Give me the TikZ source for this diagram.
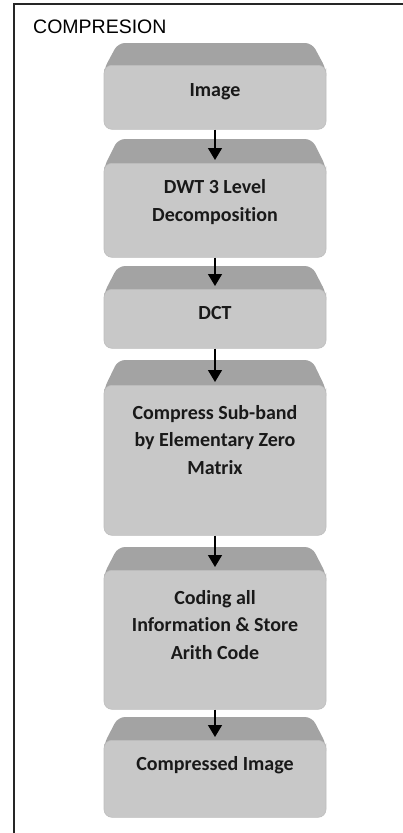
\documentclass[tikz,border=0pt]{standalone}
\usepackage{fontspec}
\setmainfont{Carlito}[Ligatures=NoCommon]
\newfontfamily\arialf{Liberation Sans}
\usetikzlibrary{arrows.meta,calc}
\definecolor{frontc}{HTML}{C8C8C8}
\definecolor{frontd}{HTML}{BEBEBE}
\definecolor{topc}{HTML}{A3A3A3}
\tikzset{
  front/.style={fill=frontc, draw=frontd, line width=0.6pt, rounded corners=8pt,
    minimum width=222pt, inner sep=0pt},
  topface/.style={fill=topc, rounded corners=7pt},
  txt/.style={align=center, font=\bfseries\fontsize{20}{27.5}\selectfont, inner sep=0pt, text=black!90},
  arr/.style={line width=1.2pt, -{Triangle[length=12pt,width=14pt]}},
  framel/.style={line width=1.6pt, draw=black!85},
}
\newcommand\bevbox[6]{%
  \fill[topface] (104,#3+10) -- (104,#3+4) -- (118,#2) -- (312,#2) -- (326,#3+4) -- (326,#3+10) -- cycle;
  \node[front, minimum height={#4pt-#3pt}, anchor=north] (#1) at (215,#3) {};
  \node[txt] (#1t) at (215,#5) {#6};
}
\begin{document}
\begin{tikzpicture}[x=1pt,y=-1pt]
\useasboundingbox (0,0) rectangle (403,833);
\fill[white] (0,0) rectangle (403,833);
\draw[framel] (14,833) -- (14,4) -- (404,4);
\node[anchor=base west, font=\arialf\fontsize{19.5}{22}\selectfont, inner sep=0pt] (title) at (33,33) {COMPRESION};
\bevbox{b1}{43}{65}{129}{92}{Image}
\bevbox{b2}{139}{163}{257}{202}{DWT 3 Level\\Decomposition}
\bevbox{b3}{266}{289}{348}{313}{DCT}
\bevbox{b4}{360}{385}{535}{440}{Compress Sub-band\\by Elementary Zero\\Matrix}
\bevbox{b5}{547}{570}{709}{625}{Coding all\\Information \& Store\\Arith Code}
\bevbox{b6}{717}{740}{817}{765}{Compressed Image}
\draw[arr] (b1.south) -- ([yshift=3pt]b2.north);
\draw[arr] (b2.south) -- ([yshift=3pt]b3.north);
\draw[arr] (b3.south) -- ([yshift=3pt]b4.north);
\draw[arr] (b4.south) -- ([yshift=3pt]b5.north);
\draw[arr] (b5.south) -- ([yshift=3pt]b6.north);
\end{tikzpicture}
\end{document}
